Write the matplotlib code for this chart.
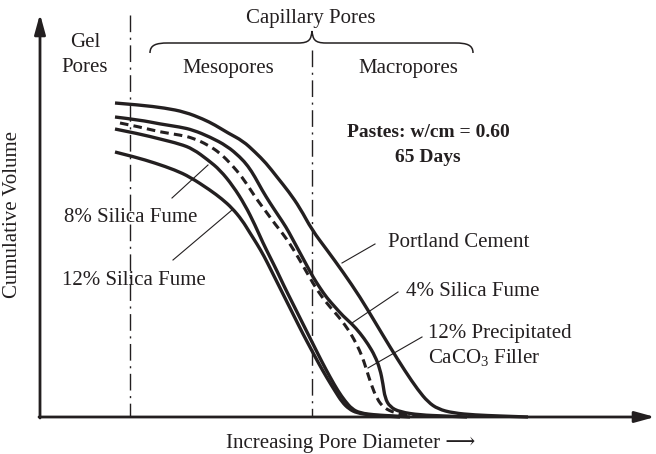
import matplotlib
matplotlib.use("Agg")
import matplotlib.pyplot as plt
from matplotlib.path import Path
import matplotlib.patches as patches

plt.rcParams['font.family'] = ['Liberation Serif', 'DejaVu Serif']
plt.rcParams['mathtext.fontset'] = 'custom'
plt.rcParams['mathtext.rm'] = 'Liberation Serif'

INK = '#231f20'

# schematic intrusion curves, drawn in the diagram's own units
# (x grows with pore diameter, y grows downward = less cumulative volume)
portland_x = [115, 140, 165, 185, 203, 215, 228, 243, 255, 266, 277, 289, 300, 312, 327,
              343, 360, 375, 390, 405, 418, 428, 438, 453, 475, 500, 528]
portland_y = [103, 105, 108, 112, 119, 125, 133, 141, 152, 163, 177, 192, 208, 230, 250,
              272, 297, 322, 347, 371, 390, 402, 409, 413, 415, 416, 417]

sf4_x = [115, 140, 160, 180, 193, 210, 227, 240, 248, 255, 262, 270, 278, 286, 292, 299, 306,
         313, 320, 327, 335, 343, 352, 360, 368, 375, 380, 383, 385, 390, 400, 420, 445, 467]
sf4_y = [117, 120, 124, 127, 130, 137, 146, 157, 166, 177, 190, 203, 215, 227, 238, 251, 264,
         277, 288, 298, 307, 316, 324, 333, 344, 356, 369, 384, 398, 407, 412, 415, 416, 417]

caco3_x = [120, 140, 160, 180, 193, 208, 220, 232, 242, 250, 258, 267, 275, 283, 290, 298, 306,
           314, 322, 330, 338, 345, 351, 357, 362, 366, 371, 377, 384, 395, 410, 420]
caco3_y = [123, 127, 132, 135, 138, 145, 153, 165, 177, 189, 201, 213, 224, 234, 244, 257, 271,
           285, 297, 307, 316, 325, 334, 345, 356, 368, 384, 399, 408, 413, 415, 416]

sf8_x = [115, 140, 160, 180, 193, 208, 220, 233, 245, 255, 263, 270, 277, 284, 291, 298, 306,
         314, 322, 330, 338, 345, 352, 360, 375, 395, 410]
sf8_y = [129, 134, 139, 144, 149, 160, 170, 186, 205, 225, 243, 257, 271, 286, 300, 314, 330,
         346, 362, 377, 391, 401, 409, 413, 415, 416, 417]

sf12_x = [115, 135, 155, 175, 190, 210, 222, 232, 242, 250, 257, 264, 271, 279, 287, 295, 303,
          311, 319, 327, 335, 342, 349, 357, 370, 385, 400]
sf12_y = [152, 157, 163, 170, 177, 190, 199, 208, 220, 233, 244, 256, 270, 286, 302, 318, 334,
          349, 364, 378, 391, 402, 409, 413, 415, 416, 417]

# pore-size boundaries (gel | meso, meso | macro)
boundaries = [130, 312]
boundary_tops = [15, 50]


def smooth_path(xs, ys):
    # quadratic bezier through the midpoints, points act as control points
    pts = list(zip(xs, ys))
    verts = [pts[0]]
    codes = [Path.MOVETO]
    for i in range(1, len(pts) - 1):
        mid = ((pts[i][0] + pts[i + 1][0]) / 2, (pts[i][1] + pts[i + 1][1]) / 2)
        verts += [pts[i], mid]
        codes += [Path.CURVE3, Path.CURVE3]
    verts.append(pts[-1])
    codes.append(Path.LINETO)
    return Path(verts, codes)


fig = plt.figure(figsize=(6.56, 4.54), dpi=100)
ax = fig.add_axes([0, 0, 1, 1])
ax.set_xlim(0, 656)
ax.set_ylim(454, 0)
ax.axis('off')

origin = (40, 417)

# axes with arrow heads
arrow_kw = dict(arrowstyle='-|>,head_length=1.2,head_width=0.33', lw=2.0, color=INK,
                shrinkA=0, shrinkB=0, mutation_scale=10)
ax.annotate('', xy=(origin[0], 14), xytext=(origin[0], origin[1] + 1), arrowprops=arrow_kw)
ax.annotate('', xy=(655, origin[1]), xytext=(origin[0] - 1, origin[1]), arrowprops=arrow_kw)

# dash-dot boundaries
for bx, top in zip(boundaries, boundary_tops):
    ax.plot([bx, bx], [top, origin[1]], color=INK, lw=1.0, linestyle=(0, (12, 4, 1.5, 4)))

# curves
for xs, ys in [(portland_x, portland_y), (sf4_x, sf4_y), (sf8_x, sf8_y), (sf12_x, sf12_y)]:
    ax.add_patch(patches.PathPatch(smooth_path(xs, ys), fill=False, lw=2.4,
                                   edgecolor=INK, joinstyle='round', capstyle='butt'))
ax.add_patch(patches.PathPatch(smooth_path(caco3_x, caco3_y), fill=False, lw=2.2,
                               edgecolor=INK, linestyle=(0, (2.8, 1.7))))

# brace over the capillary range
bl, br, bm, by = 150, 473, boundaries[1], 43
verts = [(bl, by + 10), (bl, by + 2), (bl + 6, by), (bl + 18, by),
         (bm - 14, by), (bm - 2, by), (bm - 1, by - 4), (bm, by - 12),
         (bm + 1, by - 4), (bm + 2, by), (bm + 14, by),
         (br - 18, by), (br - 6, by), (br, by + 2), (br, by + 10)]
codes = [Path.MOVETO, Path.CURVE4, Path.CURVE4, Path.CURVE4,
         Path.LINETO, Path.CURVE4, Path.CURVE4, Path.CURVE4,
         Path.CURVE4, Path.CURVE4, Path.CURVE4,
         Path.LINETO, Path.CURVE4, Path.CURVE4, Path.CURVE4]
ax.add_patch(patches.PathPatch(Path(verts, codes), fill=False, lw=1.1, edgecolor=INK))

fs = 15
txt = dict(color=INK, fontsize=fs, va='baseline')
ax.text(85, 47, 'Gel', ha='center', **txt)
ax.text(85, 72, 'Pores', ha='center', **txt)
ax.text(311, 23, 'Capillary Pores', ha='center', **txt)
ax.text(228, 73, 'Mesopores', ha='center', **txt)
ax.text(408, 73, 'Macropores', ha='center', **txt)
ax.text(428, 137, 'Pastes: w/cm = 0.60', ha='center', color=INK, fontsize=14,
        fontweight='bold', va='baseline')
ax.text(428, 162, '65 Days', ha='center', color=INK, fontsize=14,
        fontweight='bold', va='baseline')

ax.text(131, 222, '8% Silica Fume', ha='center', **txt)
ax.text(134, 285, '12% Silica Fume', ha='center', **txt)
ax.text(459, 247, 'Portland Cement', ha='center', **txt)
ax.text(473, 296, '4% Silica Fume', ha='center', **txt)
ax.text(428, 338, '12% Precipitated', ha='left', **txt)
ax.text(428, 363, r'CaCO$_\mathrm{3}$ Filler', ha='left', **txt)

ax.text(351, 448, 'Increasing Pore Diameter \u27f6', ha='center', **txt)
ax.text(13, 215, 'Cumulative Volume', rotation=90, ha='center', va='center',
        color=INK, fontsize=fs)

# leader lines from labels to curves
leaders = [((172, 198), (208, 165)),
           ((173, 260), (232, 210)),
           ((342, 263), (375, 244)),
           ((352, 323), (398, 292)),
           ((368, 368), (422, 337))]
for (x0, y0), (x1, y1) in leaders:
    ax.plot([x0, x1], [y0, y1], color=INK, lw=0.8)

fig.savefig('out.png', dpi=100)
